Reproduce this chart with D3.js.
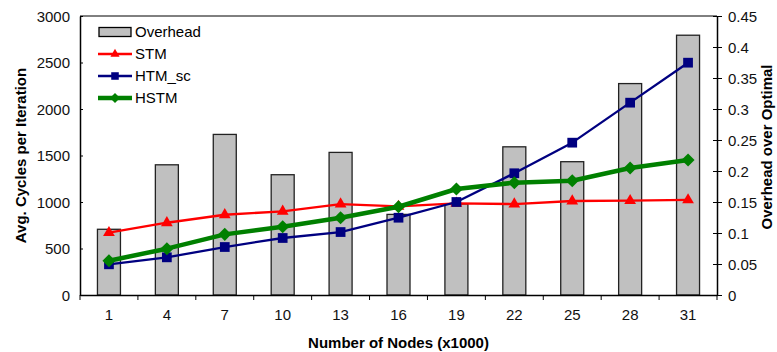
<!DOCTYPE html>
<html><head><meta charset="utf-8">
<script src="https://cdn.jsdelivr.net/npm/d3@7"></script>
<style>body{margin:0;background:#fff}svg{display:block;font-family:"Liberation Sans",Arial,sans-serif}</style>
</head><body>
<svg id="c" width="777" height="352"></svg>
<script>
const categories = ["1","4","7","10","13","16","19","22","25","28","31"];
const overhead = [0.106,0.21,0.259,0.194,0.23,0.13,0.147,0.239,0.215,0.341,0.419];
const stm = [670,777,863,900,978,952,986,978,1011,1014,1022];
const htm = [330,405,516,613,677,831,1000,1309,1638,2068,2498];
const hstm = [369,498,652,735,831,949,1140,1208,1229,1366,1452];
const leftTicks = [0,500,1000,1500,2000,2500,3000];
const rightTicks = [0,0.05,0.1,0.15,0.2,0.25,0.3,0.35,0.4,0.45];

const svg = d3.select("#c");
const L = 80, R = 717, T = 16, B = 295;
const xb = d3.scaleBand().domain(categories).range([L, R]);
const yL = d3.scaleLinear().domain([0,3000]).range([B, T]);
const yR = d3.scaleLinear().domain([0,0.45]).range([B, T]);
const fs = "15px";

// top border
svg.append("line").attr("x1",L).attr("x2",R).attr("y1",T).attr("y2",T).attr("stroke","#000").attr("stroke-width",1);

// bars
svg.append("g").selectAll("rect").data(overhead).join("rect")
  .attr("x",(d,i)=>xb(categories[i])+xb.bandwidth()/2-11.5)
  .attr("width",23)
  .attr("y",d=>yR(d)).attr("height",d=>B-yR(d))
  .attr("fill","#c0c0c0").attr("stroke","#222").attr("stroke-width",1.3);

// axes
const gl = svg.append("g").attr("transform",`translate(${L},0)`)
  .call(d3.axisLeft(yL).tickValues(leftTicks).tickFormat(d3.format("d")).tickSizeInner(4).tickSizeOuter(0).tickPadding(6));
gl.selectAll(".tick line").attr("x2",3);
const gr = svg.append("g").attr("transform",`translate(${R},0)`)
  .call(d3.axisRight(yR).tickValues(rightTicks).tickFormat(d=>String(+d.toFixed(2))).tickSizeInner(5).tickSizeOuter(0).tickPadding(6));
gr.selectAll(".tick line").attr("x1",-4);
const gx = svg.append("g").attr("transform",`translate(0,${B})`)
  .call(d3.axisBottom(xb).tickSize(0).tickPadding(14));
const seps = categories.map(c=>xb(c)).concat([R]);
gx.selectAll(".sep").data(seps).join("line").attr("class","sep")
  .attr("x1",d=>d).attr("x2",d=>d).attr("y1",0).attr("y2",5).attr("stroke","#000");
[gl,gr,gx].forEach(g=>{
  g.selectAll("text").attr("font-size",fs).attr("font-family","Liberation Sans, Arial").attr("fill","#111");
  g.select(".domain").attr("stroke","#000").attr("stroke-width",1.5);
});
gl.selectAll(".tick text").attr("dy","0.35em");
gr.selectAll(".tick text").attr("dy","0.35em");

// marker shapes
const diamond = {draw(ctx,size){const r=Math.sqrt(size/2);ctx.moveTo(0,-r);ctx.lineTo(r,0);ctx.lineTo(0,r);ctx.lineTo(-r,0);ctx.closePath();}};
const series = [
  {name:"STM", data:stm, color:"#ff0000", w:2.3, shape:d3.symbolTriangle, size:60},
  {name:"HTM_sc", data:htm, color:"#000080", w:2.3, shape:d3.symbolSquare, size:95},
  {name:"HSTM", data:hstm, color:"#008000", w:4.5, shape:diamond, size:85}
];
const cx = c => xb(c)+xb.bandwidth()/2;
series.forEach(s=>{
  const line = d3.line().x((d,i)=>cx(categories[i])).y(d=>yL(d));
  svg.append("path").datum(s.data).attr("d",line).attr("fill","none").attr("stroke",s.color).attr("stroke-width",s.w).attr("stroke-linejoin","round");
  svg.append("g").selectAll("path").data(s.data).join("path")
    .attr("d",d3.symbol().type(s.shape).size(s.size))
    .attr("transform",(d,i)=>`translate(${cx(categories[i])},${yL(d)})`)
    .attr("fill",s.color);
});

// legend
const lg = svg.append("g");
const ly = [32,54,76,98];
lg.append("rect").attr("x",99).attr("y",ly[0]-4.5).attr("width",32).attr("height",9).attr("fill","#c0c0c0").attr("stroke","#000").attr("stroke-width",1.3);
lg.append("text").attr("x",135).attr("y",ly[0]).attr("dy","0.35em").attr("font-size",fs).text("Overhead");
series.forEach((s,i)=>{
  const y = ly[i+1];
  lg.append("line").attr("x1",98).attr("x2",132).attr("y1",y).attr("y2",y).attr("stroke",s.color).attr("stroke-width",s.w);
  lg.append("path").attr("d",d3.symbol().type(s.shape).size(s.size*0.6)).attr("transform",`translate(115,${y})`).attr("fill",s.color);
  lg.append("text").attr("x",135).attr("y",y).attr("dy","0.35em").attr("font-size",fs).text(s.name);
});

// titles
svg.append("text").attr("x",(L+R)/2).attr("y",348).attr("text-anchor","middle")
  .attr("font-size","15px").attr("font-weight","bold").text("Number of Nodes (x1000)");
svg.append("text").attr("transform",`translate(26,${(T+B)/2}) rotate(-90)`).attr("text-anchor","middle")
  .attr("font-size","15px").attr("font-weight","bold").text("Avg. Cycles per Iteration");
svg.append("text").attr("transform",`translate(772,147) rotate(-90)`).attr("text-anchor","middle")
  .attr("font-size","15px").attr("font-weight","bold").text("Overhead over Optimal");
</script>
</body></html>
